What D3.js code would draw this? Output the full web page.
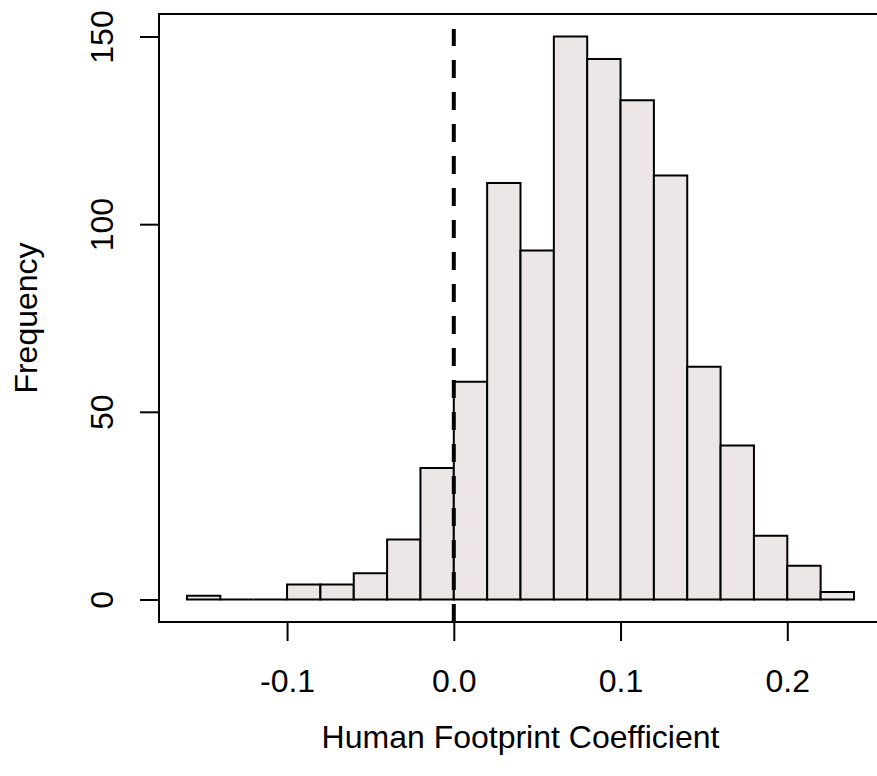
<!DOCTYPE html>
<html>
<head>
<meta charset="utf-8">
<script src="https://cdn.jsdelivr.net/npm/d3@7"></script>
<style>
  body { margin: 0; background: #fff; }
  text { font-family: "Liberation Sans", Arial, sans-serif; fill: #000; }
</style>
</head>
<body>
<div id="chart"></div>
<script>
// histogram bins (left edges) and counts
var binStarts = [-0.16, -0.14, -0.12, -0.10, -0.08, -0.06, -0.04, -0.02, 0.00, 0.02,
                 0.04, 0.06, 0.08, 0.10, 0.12, 0.14, 0.16, 0.18, 0.20, 0.22];
var counts = [1, 0, 0, 4, 4, 7, 16, 35, 58, 111, 93, 150, 144, 133, 113, 62, 41, 17, 9, 2];
var binWidth = 0.02;
var xTicks = [-0.1, 0.0, 0.1, 0.2];
var yTicks = [0, 50, 100, 150];
var refLine = 0;

var svgWidth = 877, svgHeight = 776;
var margin = { top: 14, right: -5, bottom: 154, left: 159 };
var width = svgWidth - margin.left - margin.right;
var height = svgHeight - margin.top - margin.bottom;
var fontSize = 32;

var svg = d3.select("#chart").append("svg")
  .attr("width", svgWidth)
  .attr("height", svgHeight);

var g = svg.append("g")
  .attr("transform", `translate(${margin.left}, ${margin.top})`);

var data = binStarts.map((s, i) => ({ x0: s, x1: s + binWidth, n: counts[i] }));

// R-style 4% padding on each side
var x = d3.scaleLinear().domain([-0.1768, 0.2568]).range([0, width]);
var y = d3.scaleLinear().domain([-6, 156]).range([height, 0]);

// bars (paths so empty bins still show as a flat line)
g.selectAll("path.bar").data(data).enter()
  .append("path")
  .attr("class", "bar")
  .attr("d", d => `M${x(d.x0)},${y(0)}V${y(d.n)}H${x(d.x1)}V${y(0)}Z`)
  .attr("fill", "#ece6e6")
  .attr("stroke", "#000")
  .attr("stroke-width", 2);

// dashed reference line at 0
g.append("line")
  .attr("x1", x(refLine)).attr("x2", x(refLine))
  .attr("y1", height).attr("y2", y(152))
  .attr("stroke", "#000")
  .attr("stroke-width", 4)
  .attr("stroke-dasharray", "18,14");

// box
g.append("rect")
  .attr("width", width).attr("height", height)
  .attr("fill", "none")
  .attr("stroke", "#000")
  .attr("stroke-width", 2);

// axes
var fmt = d => d3.format(".1f")(d).replace("\u2212", "-");

var xAxis = g.append("g")
  .attr("transform", `translate(0, ${height})`)
  .call(d3.axisBottom(x).tickValues(xTicks).tickSize(19).tickFormat(fmt));
xAxis.select(".domain").remove();
xAxis.selectAll("line").attr("stroke-width", 2);
xAxis.selectAll("text")
  .attr("font-size", fontSize)
  .style("font-family", "Liberation Sans, Arial, sans-serif")
  .attr("y", 70).attr("dy", 0);

var yAxis = g.append("g")
  .call(d3.axisLeft(y).tickValues(yTicks).tickSize(19).tickFormat(d3.format("d")));
yAxis.select(".domain").remove();
yAxis.selectAll("line").attr("stroke-width", 2);
yAxis.selectAll("text")
  .attr("font-size", fontSize)
  .style("font-family", "Liberation Sans, Arial, sans-serif")
  .attr("x", 0).attr("dy", 0)
  .attr("text-anchor", "middle")
  .attr("transform", "translate(-46,0) rotate(-90)");

// axis titles
svg.append("text")
  .attr("x", margin.left + (x(0.2568) - x(-0.1768)) / 2)
  .attr("y", 748)
  .attr("text-anchor", "middle")
  .attr("font-size", fontSize)
  .text("Human Footprint Coefficient");

svg.append("text")
  .attr("transform", `translate(37, ${margin.top + height / 2}) rotate(-90)`)
  .attr("text-anchor", "middle")
  .attr("font-size", fontSize)
  .text("Frequency");
</script>
</body>
</html>
